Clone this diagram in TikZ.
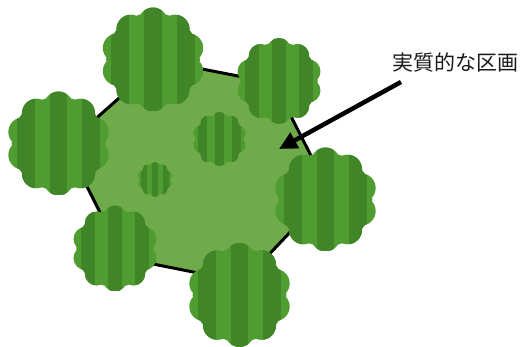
\documentclass[tikz,border=0pt]{standalone}
\usepackage{fontspec}
\newfontfamily\jpfont{Noto Sans CJK JP}
\usetikzlibrary{arrows.meta}
\definecolor{plotgreen}{HTML}{6FAB4A}
\definecolor{bushlight}{HTML}{4F9C30}
\definecolor{bushdark}{HTML}{408628}
\definecolor{inkgray}{HTML}{1A1A1A}

% A scalloped shrub at (#1,#2) with radius #3, striped vertically
\newcommand\bushat[3]{%
  \begin{scope}
    \clip (#1,#2) circle ({0.9*#3})
      \foreach \a in {0,36,...,324} {
        ({#1+0.72*#3*cos(\a+90)},{#2+0.72*#3*sin(\a+90)}) circle ({0.28*#3})
      };
    \fill[bushlight] ({#1-#3},{#2-#3}) rectangle ({#1+#3},{#2+#3});
    \foreach \k in {-2,...,2}
      \fill[bushdark] ({#1+(\k*0.63-0.17)*#3},{#2-#3})
        rectangle ({#1+(\k*0.63+0.17)*#3},{#2+#3});
  \end{scope}}

\tikzset{
  plot/.style={fill=plotgreen, draw=black, line width=3pt, line join=round},
  pointer/.style={draw=black, line width=4.5pt,
    -{Triangle[length=18pt,width=17pt]}},
  caption/.style={font=\jpfont\fontsize{21}{25}\selectfont, text=inkgray}
}

\begin{document}
\begin{tikzpicture}[x=1pt,y=-1pt]
  \useasboundingbox (0,0) rectangle (520,347);

  % the plot outline
  \coordinate (v1) at (66,145);
  \coordinate (v2) at (161,61);
  \coordinate (v3) at (274,83);
  \coordinate (v4) at (329,191);
  \coordinate (v5) at (243,282);
  \coordinate (v6) at (123,258);
  \path[plot] (v1) -- (v2) -- (v3) -- (v4) -- (v5) -- (v6) -- cycle;

  % shrubs inside the plot
  \bushat{219.5}{139}{27}
  \bushat{155}{179.5}{17.5}

  % shrubs on the corners
  \bushat{153}{59.5}{52}
  \bushat{279}{81}{43}
  \bushat{325.5}{199.5}{52}
  \bushat{239.5}{295}{52}
  \bushat{115}{248.5}{43}
  \bushat{58.5}{143.5}{52}

  % label and pointer
  \node[caption] (label) at (455,63) {実質的な区画};
  \coordinate (tail) at (401,82);
  \coordinate (tip) at (279,149);
  \draw[pointer] (tail) -- (tip);
\end{tikzpicture}
\end{document}
